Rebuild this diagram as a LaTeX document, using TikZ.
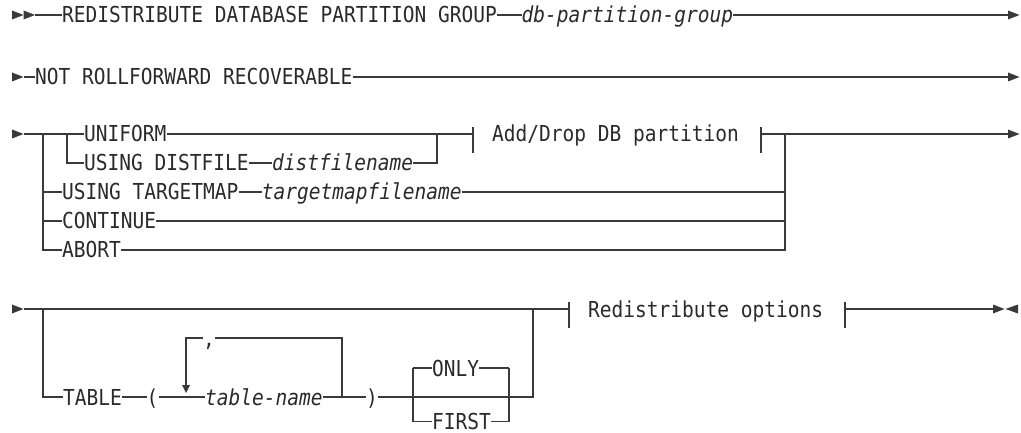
\documentclass[tikz,border=0pt]{standalone}
\usepackage{fontspec}
\newfontfamily\dmono[FakeStretch=0.887]{DejaVu Sans Mono}
\newfontfamily\dmonoi[FakeStretch=0.887]{DejaVu Sans Mono Oblique}
\definecolor{txt}{HTML}{2A2A2A}
\definecolor{ln}{HTML}{3A3A3A}
\newcommand{\rtri}[2]{\fill[tri] ({#1},{#2-4.5}) -- ({#1+11.5},{#2}) -- ({#1},{#2+4.5}) -- cycle;}
\newcommand{\ltri}[2]{\fill[tri] ({#1},{#2-4.5}) -- ({#1-12.5},{#2}) -- ({#1},{#2+4.5}) -- cycle;}
\begin{document}
\begin{tikzpicture}[x=1pt,y=-1pt,
  kw/.style={anchor=west,inner sep=0pt,text height=16pt,text depth=0pt,font=\dmono\fontsize{22}{24}\selectfont,text=txt},
  var/.style={kw,font=\dmonoi\fontsize{22}{24}\selectfont},
  rail/.style={draw=ln,line width=1.25pt},
  tri/.style={fill=ln,draw=none}]
\useasboundingbox (0,0) rectangle (1021,433);

% ---------- line 1 ----------
\node[kw] (redis) at (62,15) {REDISTRIBUTE DATABASE PARTITION GROUP};
\node[var] (dbpg) at (521.5,15) {db-partition-group};
\coordinate (s1) at (35,15);
\coordinate (e1) at (1008,15);
\rtri{12}{15}\rtri{23.5}{15}
\draw[rail] (s1) -- (redis.west) (redis.east) -- (dbpg.west) (dbpg.east) -- (e1);
\rtri{1008}{15}

% ---------- line 2 ----------
\node[kw] (notrf) at (35,77) {NOT ROLLFORWARD RECOVERABLE};
\coordinate (s2) at (23.5,77);
\coordinate (e2) at (1008,77);
\rtri{12}{77}
\draw[rail] (s2) -- (notrf.west) (notrf.east) -- (e2);
\rtri{1008}{77}

% ---------- line 3 ----------
\node[kw] (uniform) at (84,134) {UNIFORM};
\node[kw] (distf) at (84,163) {USING DISTFILE};
\node[var] (distv) at (272,163) {distfilename};
\node[kw] (tmap) at (62,192) {USING TARGETMAP};
\node[var] (tmapv) at (261.75,192) {targetmapfilename};
\node[kw] (cont) at (62,221) {CONTINUE};
\node[kw] (abort) at (62,250) {ABORT};
\node[kw] (adddrop) at (492,134) {Add/Drop DB partition};
\coordinate (s3) at (23.5,134);
\coordinate (o3l) at (43,134);
\coordinate (i3l) at (67,134);
\coordinate (i3r) at (437,134);
\coordinate (b3a) at (473,134);
\coordinate (b3b) at (761,134);
\coordinate (o3r) at (785,134);
\coordinate (e3) at (1008,134);
\rtri{12}{134}
\draw[rail] (s3) -- (uniform.west) (uniform.east) -- (b3a);
\draw[rail] (i3l) |- (distf.west) (distf.east) -- (distv.west) (distv.east) -| (i3r);
\draw[rail] (o3l) |- (abort.west) (abort.east) -| (o3r);
\draw[rail] (o3l |- tmap.west) -- (tmap.west) (tmap.east) -- (tmapv.west) (tmapv.east) -- (o3r |- tmapv.east);
\draw[rail] (o3l |- cont.west) -- (cont.west) (cont.east) -- (o3r |- cont.east);
\draw[rail] (473,127) -- (473,153);
\draw[rail] (761,127) -- (761,153);
\draw[rail] (b3b) -- (e3);
\rtri{1008}{134}

% ---------- line 4 ----------
\node[kw] (table) at (63,397) {TABLE};
\node[kw] (lpar) at (146.5,397) {(};
\node[var] (tname) at (205,397) {table-name};
\node[kw] (rpar) at (366,397) {)};
\node[kw] (comma) at (203,338) {,};
\node[kw] (only) at (432,368) {ONLY};
\node[kw] (first) at (432,421.5) {FIRST};
\node[kw] (redopt) at (588,309) {Redistribute options};
\coordinate (s4) at (23.5,309);
\coordinate (o4l) at (43,309);
\coordinate (lpr) at (342,397);
\coordinate (lpt) at (342,338);
\coordinate (lpl) at (186,338);
\coordinate (lpa) at (186,386);
\coordinate (bxl) at (413,397);
\coordinate (bxr) at (509,397);
\coordinate (o4r) at (533,309);
\coordinate (b4a) at (569,309);
\coordinate (b4b) at (845,309);
\coordinate (e4) at (993,309);
\rtri{12}{309}
\draw[rail] (s4) -- (b4a);
\draw[rail] (o4l) |- (table.west) (table.east) -- (lpar.west) (lpar.east) -- (tname.west)
            (tname.east) -- (rpar.west) (rpar.east) -| (o4r);
\draw[rail] (lpr) -- (lpt) -- (comma.east) (comma.west) -- (lpl) -- (lpa);
\fill[tri] (182,385) -- (190,385) -- (186,393) -- cycle;
\draw[rail] (bxl |- only.west) -- (bxl |- first.west);
\draw[rail] (bxr |- only.west) -- (bxr |- first.west);
\draw[rail] (bxl |- only.west) -- (only.west) (only.east) -- (bxr |- only.west);
\draw[rail] (bxl |- first.west) -- (first.west) (first.east) -- (bxr |- first.west);
\draw[rail] (569,302) -- (569,328);
\draw[rail] (845,302) -- (845,328);
\draw[rail] (b4b) -- (e4);
\rtri{993}{309}\ltri{1018}{309}
\end{tikzpicture}
\end{document}
